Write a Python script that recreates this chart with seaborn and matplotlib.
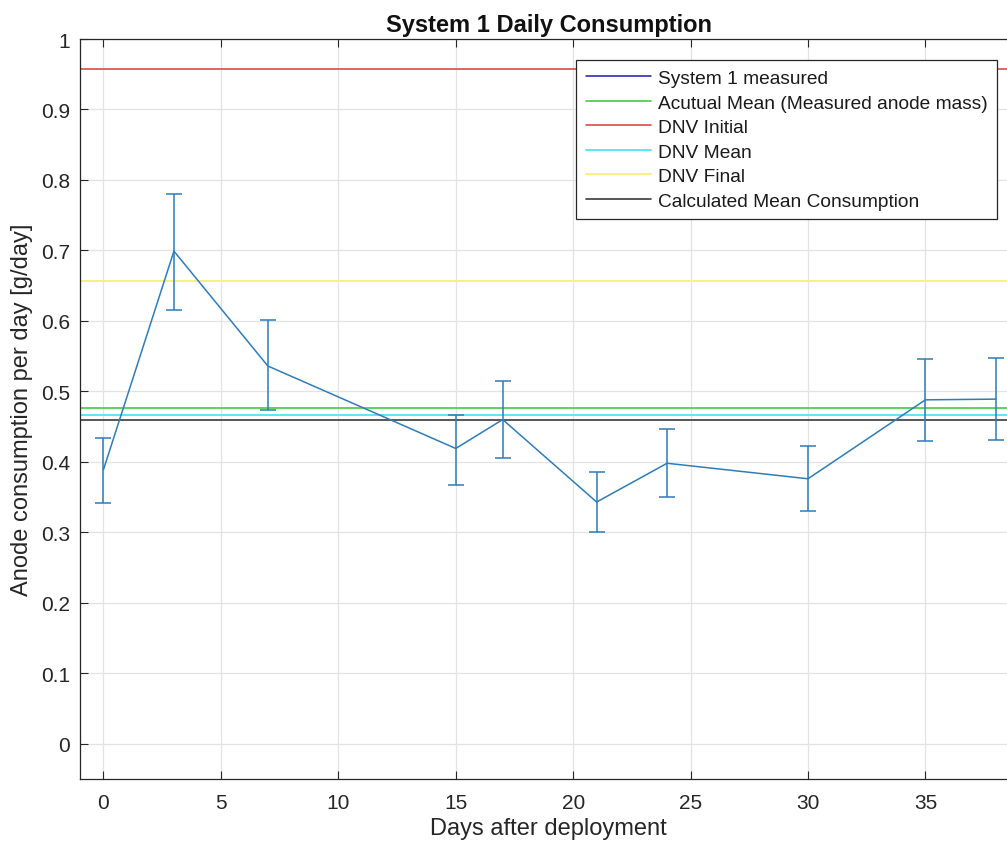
import matplotlib
matplotlib.use("Agg")
import matplotlib.pyplot as plt
from matplotlib.lines import Line2D
import numpy as np
import pandas as pd
import seaborn as sns

# Measured daily anode consumption for System 1
days = [0, 3, 7, 15, 17, 21, 24, 30, 35, 38]
consumption = [0.389, 0.699, 0.536, 0.419, 0.460, 0.343, 0.398, 0.376, 0.488, 0.489]
lower = [0.341, 0.616, 0.473, 0.367, 0.405, 0.301, 0.350, 0.330, 0.430, 0.431]
upper = [0.434, 0.780, 0.601, 0.467, 0.515, 0.385, 0.446, 0.422, 0.546, 0.547]

# Reference consumption levels [g/day]
actual_mean = 0.476
dnv_initial = 0.958
dnv_mean = 0.4665
dnv_final = 0.656
calc_mean = 0.460

legend_labels = [
    "System 1 measured",
    "Acutual Mean (Measured anode mass)",
    "DNV Initial",
    "DNV Mean",
    "DNV Final",
    "Calculated Mean Consumption",
]

x_ticks = [0, 5, 10, 15, 20, 25, 30, 35]
y_ticks = [0, 0.1, 0.2, 0.3, 0.4, 0.5, 0.6, 0.7, 0.8, 0.9, 1]
y_tick_labels = ["0", "0.1", "0.2", "0.3", "0.4", "0.5", "0.6", "0.7", "0.8", "0.9", "1"]

sns.set_theme(style="whitegrid")
plt.rcParams["font.family"] = ["Liberation Sans", "DejaVu Sans"]

df = pd.DataFrame({"day": days, "value": consumption})

fig = plt.figure(figsize=(10.07, 8.45), dpi=100)
ax = fig.add_axes([80 / 1007, 65 / 845, 937 / 1007, 740 / 845])
ax.set_facecolor("white")

data_color = "#2f7cb6"

# Reference levels
level_colors = {
    "actual": "#3fd03f",
    "initial": "#e04848",
    "mean": "#5ee6f2",
    "final": "#f6f27c",
    "calc": "#3a3a3a",
}
ax.axhline(dnv_final, color=level_colors["final"], lw=1.4, zorder=2)
ax.axhline(dnv_initial, color=level_colors["initial"], lw=1.2, zorder=2)
ax.axhline(actual_mean, color=level_colors["actual"], lw=1.2, zorder=2)
ax.axhline(dnv_mean, color=level_colors["mean"], lw=1.4, zorder=2)
ax.axhline(calc_mean, color=level_colors["calc"], lw=1.2, zorder=2)

# Measured series with error bars
sns.lineplot(data=df, x="day", y="value", ax=ax, color=data_color, lw=1.1,
             zorder=3, legend=False)
yerr = np.array([np.array(consumption) - np.array(lower),
                 np.array(upper) - np.array(consumption)])
ax.errorbar(days, consumption, yerr=yerr, fmt="none", ecolor=data_color,
            elinewidth=1.1, capsize=6, capthick=1.1, zorder=3)

ax.set_xlim(-1, 38.9)
ax.set_ylim(-0.05, 1)
ax.set_xticks(x_ticks)
ax.set_xticklabels([str(t) for t in x_ticks])
ax.set_yticks(y_ticks)
ax.set_yticklabels(y_tick_labels)

ax.grid(True, color="#e3e3e3", lw=0.9)
ax.set_axisbelow(True)
for side in ["left", "bottom", "top", "right"]:
    ax.spines[side].set_visible(True)
    ax.spines[side].set_color("#262626")
    ax.spines[side].set_linewidth(0.9)

ax.tick_params(axis="both", which="both", direction="in", length=6, width=0.8,
               color="#262626", labelsize=15, labelcolor="#262626",
               top=True, right=True, left=True, bottom=True, pad=10)
ax.tick_params(axis="y", pad=7)

ax.set_xlabel("Days after deployment", fontsize=17, color="#262626", labelpad=4)
ax.set_ylabel("Anode consumption per day [g/day]", fontsize=17, color="#262626", labelpad=6)
ax.set_title("System 1 Daily Consumption", fontsize=17, fontweight="bold",
             color="#111111", pad=6)

handles = [
    Line2D([], [], color="#1a1ab0", lw=1.1),
    Line2D([], [], color=level_colors["actual"], lw=1.2),
    Line2D([], [], color=level_colors["initial"], lw=1.2),
    Line2D([], [], color=level_colors["mean"], lw=1.4),
    Line2D([], [], color=level_colors["final"], lw=1.4),
    Line2D([], [], color=level_colors["calc"], lw=1.2),
]
leg = ax.legend(handles, legend_labels, loc="upper right",
                bbox_to_anchor=(997 / 1007, 1 - 61 / 845),
                bbox_transform=fig.transFigure, borderaxespad=0,
                fontsize=13.8, frameon=True, fancybox=False, framealpha=1,
                edgecolor="#262626", handlelength=3.4, handletextpad=0.35,
                labelspacing=0.37, borderpad=0.5)
leg.get_frame().set_linewidth(0.9)
for t in leg.get_texts():
    t.set_color("#1a1a1a")

fig.savefig("out.png", dpi=100)
